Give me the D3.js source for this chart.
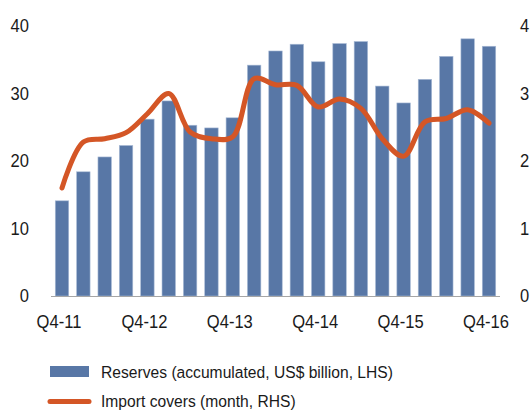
<!DOCTYPE html>
<html>
<head>
<meta charset="utf-8">
<script src="https://cdn.jsdelivr.net/npm/d3@7"></script>
<style>
  body { margin: 0; background: #fff; }
  text { font-family: "Liberation Sans", Arial, sans-serif; fill: #1a1a1a; }
</style>
</head>
<body>
<svg width="532" height="410"></svg>
<script>
const quarters = ["Q4-11","Q1-12","Q2-12","Q3-12","Q4-12","Q1-13","Q2-13","Q3-13","Q4-13",
                  "Q1-14","Q2-14","Q3-14","Q4-14","Q1-15","Q2-15","Q3-15","Q4-15",
                  "Q1-16","Q2-16","Q3-16","Q4-16"];
const reserves = [14.1, 18.4, 20.6, 22.3, 26.2, 28.9, 25.3, 24.9, 26.4,
                  34.2, 36.3, 37.3, 34.7, 37.4, 37.7, 31.1, 28.6,
                  32.1, 35.5, 38.1, 37.0];
const importCover = [1.6, 2.28, 2.33, 2.42, 2.7, 3.0, 2.43, 2.33, 2.36,
                     3.22, 3.13, 3.12, 2.8, 2.92, 2.78, 2.33, 2.07,
                     2.58, 2.63, 2.76, 2.56];
const xLabels = ["Q4-11","Q4-12","Q4-13","Q4-14","Q4-15","Q4-16"];
const leftTicks = [0, 10, 20, 30, 40];
const rightTicks = [0, 1, 2, 3, 4];

const svg = d3.select("svg");
const blue = "#5877a6", orange = "#d45626";
const sx = 0.92; // condensed look

const x = d3.scaleBand().domain(quarters).range([51, 500]).paddingInner(0.37).paddingOuter(0.2);
const yL = d3.scaleLinear().domain([0, 40]).range([296, 26]);
const yR = d3.scaleLinear().domain([0, 4]).range([296, 26]);

// bars
svg.append("g").selectAll("rect")
  .data(reserves)
  .enter().append("rect")
    .attr("x", (d, i) => x(quarters[i]))
    .attr("width", x.bandwidth())
    .attr("y", d => yL(d))
    .attr("height", d => yL(0) - yL(d))
    .attr("fill", blue)
    .attr("stroke", "#a9bbd6")
    .attr("stroke-width", 0.6);

// baseline
svg.append("line")
  .attr("x1", 51).attr("x2", 500)
  .attr("y1", yL(0) + 0.5).attr("y2", yL(0) + 0.5)
  .attr("stroke", "#a6a6a6").attr("stroke-width", 1.2);

// line
const line = d3.line()
  .x((d, i) => x(quarters[i]) + x.bandwidth() / 2)
  .y(d => yR(d))
  .curve(d3.curveCatmullRom.alpha(0.5));

svg.append("path")
  .datum(importCover)
  .attr("d", line)
  .attr("fill", "none")
  .attr("stroke", orange)
  .attr("stroke-width", 5)
  .attr("stroke-linecap", "round")
  .attr("stroke-linejoin", "round");

function label(g, px, py, anchor, size, txt) {
  g.append("text")
    .attr("transform", `translate(${px},${py}) scale(${sx},1)`)
    .attr("dy", "0.35em")
    .attr("text-anchor", anchor)
    .style("font-size", size + "px")
    .text(txt);
}

// left axis labels
const gl = svg.append("g");
leftTicks.forEach(d => label(gl, 29, yL(d), "end", 18, d));

// right axis labels
const gr = svg.append("g");
rightTicks.forEach(d => label(gr, 520, yR(d), "start", 18, d));

// x labels
const gx = svg.append("g");
xLabels.forEach(d => label(gx, x(d) + x.bandwidth() / 2 - 3, 322, "middle", 18, d));

// legend
const legend = svg.append("g");
legend.append("rect")
  .attr("x", 50).attr("y", 366).attr("width", 39).attr("height", 11)
  .attr("fill", blue);
label(legend, 101, 372, "start", 17, "Reserves (accumulated, US$ billion, LHS)");
legend.append("line")
  .attr("x1", 50).attr("x2", 89).attr("y1", 401.5).attr("y2", 401.5)
  .attr("stroke", orange).attr("stroke-width", 5).attr("stroke-linecap", "round");
label(legend, 101, 401, "start", 17, "Import covers (month, RHS)");
</script>
</body>
</html>
